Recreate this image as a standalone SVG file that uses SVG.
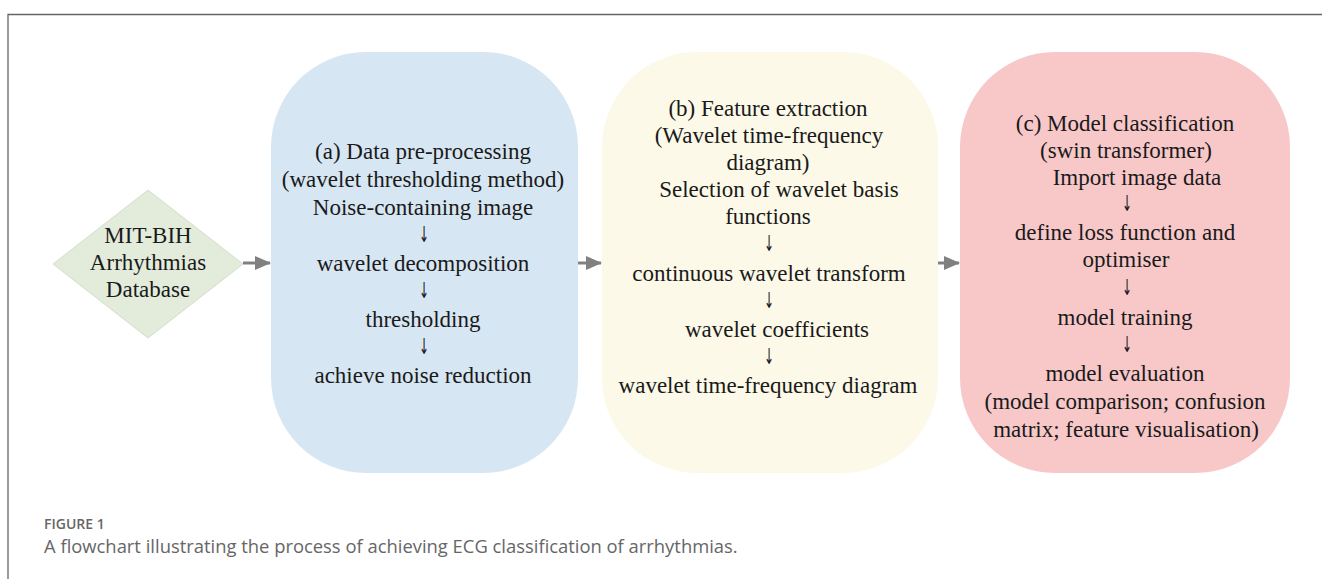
<svg xmlns="http://www.w3.org/2000/svg" width="1322" height="579" viewBox="0 0 1322 579">
<style>
.t{font-family:"Liberation Serif","Times New Roman",serif;font-size:23px;fill:#1a1a1a;text-anchor:middle}
.ar{font-family:"DejaVu Sans",sans-serif;font-size:22px;fill:#1a1a1a;text-anchor:middle}
.cap1{font-family:"Open Sans","Liberation Sans",sans-serif;font-size:14px;font-weight:600;fill:#666}
.cap2{font-family:"Open Sans","Liberation Sans",sans-serif;font-size:18.4px;fill:#666}
.conn{stroke:#808080;stroke-width:3;fill:none}
</style>
<defs>
<marker id="ah" viewBox="0 0 16 14" refX="15" refY="7" markerWidth="16" markerHeight="14" markerUnits="userSpaceOnUse" orient="auto">
<path d="M0,0 L16,7 L0,14 z" fill="#808080"/>
</marker>
</defs>
<rect width="1322" height="579" fill="#fff"/>
<path d="M8,579 V14.5 H1322" fill="none" stroke="#666" stroke-width="1.3"/>
<g id="connectors">
<line class="conn" x1="243" y1="263" x2="270" y2="263" marker-end="url(#ah)"/>
<line class="conn" x1="578" y1="263" x2="601" y2="263" marker-end="url(#ah)"/>
<line class="conn" x1="937" y1="263" x2="959" y2="263" marker-end="url(#ah)"/>
</g>
<g id="database">
<polygon points="148,190 243,264 148,338 53,264" fill="#e3ecdb" stroke="#d3decb" stroke-width="1"/>
<text class="t" x="148" y="243">MIT-BIH</text>
<text class="t" x="148" y="270">Arrhythmias</text>
<text class="t" x="148" y="297">Database</text>
</g>
<g id="preprocessing">
<rect x="271" y="52" width="307" height="421" rx="95" ry="95" fill="#d7e6f3"/>
<text class="t" x="423" y="159">(a) Data pre-processing</text>
<text class="t" x="423" y="187">(wavelet thresholding method)</text>
<text class="t" x="423" y="215">Noise-containing image</text>
<text class="ar" transform="translate(424,242) scale(0.55,1)">↓</text>
<text class="t" x="423" y="271">wavelet decomposition</text>
<text class="ar" transform="translate(424,298) scale(0.55,1)">↓</text>
<text class="t" x="423" y="327">thresholding</text>
<text class="ar" transform="translate(424,354) scale(0.55,1)">↓</text>
<text class="t" x="423" y="383">achieve noise reduction</text>
</g>
<g id="feature">
<rect x="602" y="52" width="336" height="421" rx="95" ry="95" fill="#fcf9e8"/>
<text class="t" x="768" y="116">(b) Feature extraction</text>
<text class="t" x="769" y="143">(Wavelet time-frequency</text>
<text class="t" x="768" y="170">diagram)</text>
<text class="t" x="779" y="197">Selection of wavelet basis</text>
<text class="t" x="768" y="224">functions</text>
<text class="ar" transform="translate(769,251) scale(0.55,1)">↓</text>
<text class="t" x="769" y="281">continuous wavelet transform</text>
<text class="ar" transform="translate(769,308) scale(0.55,1)">↓</text>
<text class="t" x="777" y="337">wavelet coefficients</text>
<text class="ar" transform="translate(769,364) scale(0.55,1)">↓</text>
<text class="t" x="768" y="393">wavelet time-frequency diagram</text>
</g>
<g id="classification">
<rect x="960" y="52" width="330" height="421" rx="95" ry="95" fill="#f8c8c9"/>
<text class="t" x="1125" y="131">(c) Model classification</text>
<text class="t" x="1126" y="158">(swin transformer)</text>
<text class="t" x="1137" y="185">Import image data</text>
<text class="ar" transform="translate(1127,211) scale(0.55,1)">↓</text>
<text class="t" x="1125" y="240">define loss function and</text>
<text class="t" x="1126" y="267">optimiser</text>
<text class="ar" transform="translate(1127,295) scale(0.55,1)">↓</text>
<text class="t" x="1125" y="325">model training</text>
<text class="ar" transform="translate(1127,352) scale(0.55,1)">↓</text>
<text class="t" x="1125" y="381">model evaluation</text>
<text class="t" x="1125" y="409">(model comparison; confusion</text>
<text class="t" x="1126" y="437">matrix; feature visualisation)</text>
</g>
<g id="caption">
<text class="cap1" x="44" y="529">FIGURE 1</text>
<text class="cap2" x="44" y="553">A flowchart illustrating the process of achieving ECG classification of arrhythmias.</text>
</g>
</svg>
